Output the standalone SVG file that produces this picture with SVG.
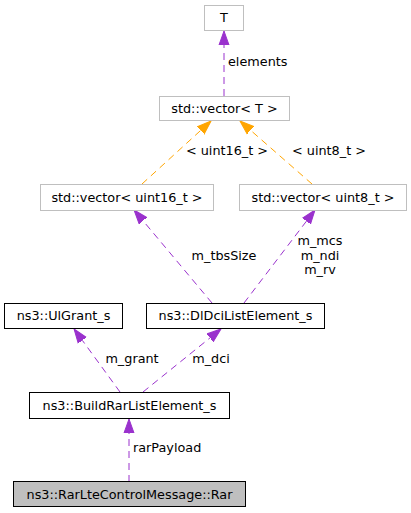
<svg xmlns="http://www.w3.org/2000/svg" width="411" height="513" viewBox="0 0 411 513">
<style>
text{font-family:"DejaVu Sans","Liberation Sans",sans-serif;font-size:12.8px;fill:#000}
.n{text-anchor:middle}
.g{fill:#fff;stroke:#bfbfbf;stroke-width:1}
.b{fill:#fff;stroke:#000;stroke-width:1}
.sel{fill:#bfbfbf;stroke:#000;stroke-width:1}
.p{stroke:#9a32cd;stroke-width:1;stroke-dasharray:7,5;fill:none;marker-end:url(#ap)}
.o{stroke:#ffa500;stroke-width:1;stroke-dasharray:7,5;fill:none;marker-end:url(#ao)}
</style>
<defs>
<marker id="ap" markerUnits="userSpaceOnUse" markerWidth="16" markerHeight="12" refX="0" refY="5" orient="auto" viewBox="0 0 16 10"><path d="M0,0 L14,5 L0,10 z" fill="#9a32cd" stroke="#9a32cd"/></marker>
<marker id="ao" markerUnits="userSpaceOnUse" markerWidth="16" markerHeight="12" refX="0" refY="5" orient="auto" viewBox="0 0 16 10"><path d="M0,0 L14,5 L0,10 z" fill="#ffa500" stroke="#ffa500"/></marker>
</defs>
<rect width="411" height="513" fill="#fff"/>
<g id="edges">
<line class="p" x1="224" y1="96" x2="224" y2="45"/>
<line class="o" x1="142" y1="184" x2="200.7" y2="130.4"/>
<line class="o" x1="312" y1="184" x2="250.5" y2="130.2"/>
<line class="p" x1="212" y1="303" x2="143" y2="220.7"/>
<line class="p" x1="244" y1="303" x2="306.5" y2="221.1"/>
<line class="p" x1="120" y1="392" x2="82.3" y2="340.3"/>
<line class="p" x1="143" y1="392" x2="210.1" y2="337.8"/>
<line class="p" x1="129" y1="482" x2="129" y2="433"/>
<text x="228" y="66">elements</text>
<text class="n" x="227" y="155">&lt; uint16_t &gt;</text>
<text class="n" x="329" y="155">&lt; uint8_t &gt;</text>
<text class="n" x="224" y="260">m_tbsSize</text>
<text class="n" x="320" y="245">m_mcs</text>
<text class="n" x="320" y="259.5">m_ndi</text>
<text class="n" x="320" y="274">m_rv</text>
<text class="n" x="132" y="363">m_grant</text>
<text class="n" x="211" y="363">m_dci</text>
<text x="133" y="452">rarPayload</text>
</g>
<g id="T"><rect class="g" x="204.5" y="5.5" width="39" height="25"/><text class="n" x="224" y="22">T</text></g>
<g id="vecT"><rect class="g" x="159.5" y="96.5" width="130" height="24"/><text class="n" x="224.5" y="112.5">std::vector&lt; T &gt;</text></g>
<g id="vec16"><rect class="g" x="40.5" y="184.5" width="173" height="26"/><text class="n" x="127" y="201.5">std::vector&lt; uint16_t &gt;</text></g>
<g id="vec8"><rect class="g" x="239.5" y="184.5" width="167" height="26"/><text class="n" x="323" y="201.5">std::vector&lt; uint8_t &gt;</text></g>
<g id="UlGrant"><rect class="b" x="4.5" y="303.5" width="118" height="25"/><text class="n" x="63.5" y="320">ns3::UlGrant_s</text></g>
<g id="DlDci"><rect class="b" x="146.5" y="303.5" width="178" height="25"/><text class="n" x="235.5" y="320">ns3::DlDciListElement_s</text></g>
<g id="BuildRar"><rect class="b" x="29.5" y="392.5" width="200" height="26"/><text class="n" x="129.5" y="409.5">ns3::BuildRarListElement_s</text></g>
<g id="Rar"><rect class="sel" x="13.5" y="481.5" width="232" height="25"/><text class="n" x="129.5" y="498.5">ns3::RarLteControlMessage::Rar</text></g>
</svg>
